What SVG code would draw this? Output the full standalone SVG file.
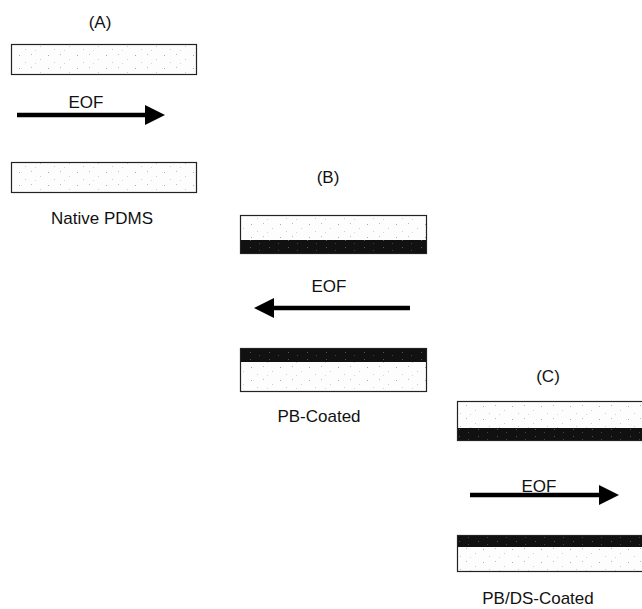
<svg xmlns="http://www.w3.org/2000/svg" width="642" height="609" viewBox="0 0 642 609">
<defs>
<pattern id="spk" width="29" height="13" patternUnits="userSpaceOnUse">
<rect width="29" height="13" fill="#fdfdfd"/>
<rect x="2" y="2" width="1" height="1" fill="#bbb"/>
<rect x="11" y="7" width="1" height="1" fill="#ccc"/>
<rect x="19" y="3" width="1" height="1" fill="#aaa"/>
<rect x="25" y="10" width="1" height="1" fill="#ccc"/>
<rect x="6" y="11" width="1" height="1" fill="#d5d5d5"/>
</pattern>
<pattern id="dspk" width="19" height="7" patternUnits="userSpaceOnUse">
<rect width="19" height="7" fill="#111"/>
<rect x="3" y="2" width="1" height="1" fill="#555"/>
<rect x="12" y="5" width="1" height="1" fill="#444"/>
</pattern>
<marker id="ah" markerWidth="20" markerHeight="20" viewBox="0 0 20 20" refX="0" refY="10" orient="auto" markerUnits="userSpaceOnUse">
<path d="M0,0 L20,10 L0,20 Z" fill="#000"/>
</marker>
<style>
text{font-family:"Liberation Sans",Arial,sans-serif;font-size:17px;fill:#111;text-anchor:middle}
.wall{fill:url(#spk);stroke:#222;stroke-width:1.2}
.coat{fill:url(#dspk)}
.arr{stroke:#000;stroke-width:4.5;fill:none}
</style>
</defs>
<g id="panelA">
<text x="100" y="28">(A)</text>
<rect class="wall" x="11.5" y="44.5" width="185" height="30"/>
<text x="86" y="108">EOF</text>
<rect class="wall" x="11.5" y="162.5" width="185" height="30"/>
<text x="102" y="224">Native PDMS</text>
</g>
<g id="panelB">
<text x="328" y="183">(B)</text>
<rect class="wall" x="240.5" y="215.5" width="186" height="38"/>
<rect class="coat" x="241" y="240" width="185" height="13"/>
<text x="329" y="292">EOF</text>
<rect class="wall" x="240.5" y="348.5" width="186" height="43"/>
<rect class="coat" x="241" y="349" width="185" height="13"/>
<text x="319" y="422">PB-Coated</text>
</g>
<g id="panelC">
<text x="548" y="382">(C)</text>
<rect class="wall" x="457.5" y="401.5" width="190" height="39"/>
<rect class="coat" x="458" y="428" width="184" height="12"/>
<text x="539" y="492">EOF</text>
<rect class="wall" x="457.5" y="535.5" width="190" height="36"/>
<rect class="coat" x="458" y="536" width="184" height="11"/>
<text x="538" y="604">PB/DS-Coated</text>
</g>
<g id="connectors">
<line class="arr" x1="17" y1="115" x2="145" y2="115" marker-end="url(#ah)"/>
<line class="arr" x1="410" y1="308" x2="274" y2="308" marker-end="url(#ah)"/>
<line class="arr" x1="470" y1="495" x2="599" y2="495" marker-end="url(#ah)"/>
</g>
</svg>
